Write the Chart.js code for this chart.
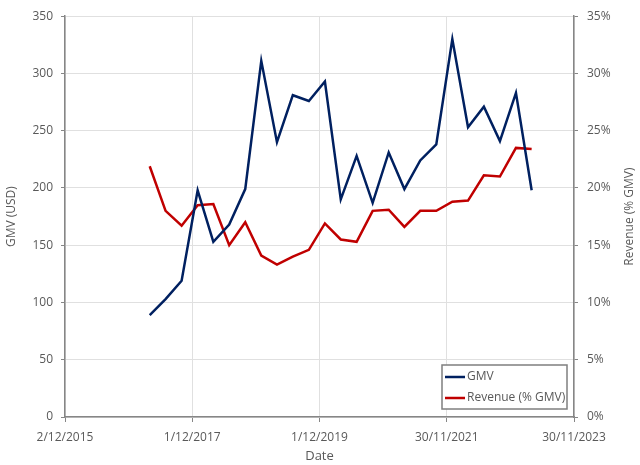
<!DOCTYPE html>
<html lang="en">
<head>
    <meta charset="UTF-8">
    <title>GMV and Revenue</title>
    <script src="https://cdn.jsdelivr.net/npm/chart.js"></script>
    <style>
        body { margin: 0; background: #fff; }
    </style>
</head>
<body>
    <canvas id="myChart" width="640" height="465"></canvas>

    <script>
        // quarterly data points
        const dates = [
            "2017-04-01", "2017-07-01", "2017-10-01", "2018-01-01",
            "2018-04-01", "2018-07-01", "2018-10-01", "2019-01-01",
            "2019-04-01", "2019-07-01", "2019-10-01", "2020-01-01",
            "2020-04-01", "2020-07-01", "2020-10-01", "2021-01-01",
            "2021-04-01", "2021-07-01", "2021-10-01", "2022-01-01",
            "2022-04-01", "2022-07-01", "2022-10-01", "2023-01-01",
            "2023-04-01"
        ];
        const gmv = [
            89, 103, 119, 198, 153, 168, 199, 311, 240, 281, 276, 293,
            190, 228, 187, 231, 199, 224, 238, 330, 253, 271, 241, 283, 198
        ];
        const revenuePct = [
            21.9, 18.0, 16.7, 18.5, 18.6, 15.0, 17.0, 14.1, 13.3, 14.0, 14.6, 16.9,
            15.5, 15.3, 18.0, 18.1, 16.6, 18.0, 18.0, 18.8, 18.9, 21.1, 21.0, 23.5, 23.4
        ];
        const xTicks = ["2015-12-02", "2017-12-01", "2019-12-01", "2021-11-30", "2023-11-30"];
        const gmvTicks = [0, 50, 100, 150, 200, 250, 300, 350];
        const pctTicks = [0, 5, 10, 15, 20, 25, 30, 35];

        const DAY = 86400000;
        const toDay = (s) => {
            const [y, m, d] = s.split("-").map(Number);
            return Date.UTC(y, m - 1, d) / DAY;
        };
        const fmtDay = (v) => {
            const d = new Date(Math.round(v) * DAY);
            return d.getUTCDate() + "/" + (d.getUTCMonth() + 1) + "/" + d.getUTCFullYear();
        };

        const FONT = { family: "'Open Sans', sans-serif", size: 12 };
        const TEXT = "#595959";
        const AXIS = "#868686";
        const GRID = "#e0e0e0";

        // legend box inside the plot, bottom right
        const boxLegend = {
            id: "boxLegend",
            afterDatasetsDraw(chart) {
                const ctx = chart.ctx;
                const x = 442, y = 365, w = 125, h = 44;
                ctx.save();
                ctx.fillStyle = "#fff";
                ctx.fillRect(x, y, w, h);
                ctx.strokeStyle = "#7f7f7f";
                ctx.lineWidth = 1.5;
                ctx.strokeRect(x, y, w, h);
                ctx.font = "12px 'Open Sans', sans-serif";
                ctx.textBaseline = "middle";
                chart.data.datasets.forEach((ds, i) => {
                    const ly = y + 12 + i * 21;
                    ctx.strokeStyle = ds.borderColor;
                    ctx.lineWidth = 2.5;
                    ctx.beginPath();
                    ctx.moveTo(x + 3, ly);
                    ctx.lineTo(x + 23, ly);
                    ctx.stroke();
                    ctx.fillStyle = TEXT;
                    ctx.fillText(ds.label, x + 25, ly);
                });
                ctx.restore();
            }
        };

        // right axis title reads bottom-to-top like the left one
        const rightTitle = {
            id: "rightTitle",
            afterDraw(chart) {
                const ctx = chart.ctx;
                const a = chart.chartArea;
                ctx.save();
                ctx.translate(630, (a.top + a.bottom) / 2);
                ctx.rotate(-Math.PI / 2);
                ctx.font = "12px 'Open Sans', sans-serif";
                ctx.fillStyle = TEXT;
                ctx.textAlign = "center";
                ctx.textBaseline = "middle";
                ctx.fillText("Revenue (% GMV)", 0, 0);
                ctx.restore();
            }
        };

        const ctx = document.getElementById("myChart").getContext("2d");
        new Chart(ctx, {
            type: "line",
            data: {
                datasets: [
                    {
                        label: "GMV",
                        data: dates.map((d, i) => ({ x: toDay(d), y: gmv[i] })),
                        borderColor: "#002060",
                        borderWidth: 2.5,
                        pointRadius: 0,
                        tension: 0,
                        yAxisID: "y"
                    },
                    {
                        label: "Revenue (% GMV)",
                        data: dates.map((d, i) => ({ x: toDay(d), y: revenuePct[i] })),
                        borderColor: "#c00000",
                        borderWidth: 2.5,
                        pointRadius: 0,
                        tension: 0,
                        yAxisID: "y1"
                    }
                ]
            },
            options: {
                responsive: false,
                animation: false,
                devicePixelRatio: 1,
                layout: { padding: { top: 11, left: 0, right: 0, bottom: 0 } },
                plugins: {
                    legend: { display: false },
                    tooltip: { enabled: false }
                },
                scales: {
                    x: {
                        type: "linear",
                        min: toDay(xTicks[0]),
                        max: toDay(xTicks[xTicks.length - 1]),
                        afterBuildTicks: (axis) => {
                            axis.ticks = xTicks.map(t => ({ value: toDay(t) }));
                        },
                        afterFit: (axis) => { axis.height = 48; },
                        grid: { color: GRID, tickColor: AXIS, tickLength: 5 },
                        border: { color: AXIS, width: 1.5 },
                        ticks: {
                            font: FONT, color: TEXT, padding: 8, maxRotation: 0,
                            callback: (v) => fmtDay(v)
                        },
                        title: {
                            display: true, text: "Date", font: { ...FONT, size: 13 }, color: TEXT,
                            padding: { top: 0, bottom: 1 }
                        }
                    },
                    y: {
                        position: "left",
                        min: 0,
                        max: 350,
                        afterBuildTicks: (axis) => {
                            axis.ticks = gmvTicks.map(v => ({ value: v }));
                        },
                        afterFit: (axis) => { axis.width = 65; },
                        grid: { color: GRID, tickColor: AXIS, tickLength: 4 },
                        border: { color: AXIS, width: 1.5 },
                        ticks: { font: FONT, color: TEXT, padding: 8 },
                        title: {
                            display: true, text: "GMV (USD)", font: FONT, color: TEXT,
                            padding: { top: 4, bottom: 0 }
                        }
                    },
                    y1: {
                        position: "right",
                        min: 0,
                        max: 35,
                        afterBuildTicks: (axis) => {
                            axis.ticks = pctTicks.map(v => ({ value: v }));
                        },
                        afterFit: (axis) => { axis.width = 66; },
                        grid: { drawOnChartArea: false, tickColor: AXIS, tickLength: 4 },
                        border: { color: AXIS, width: 1.5 },
                        ticks: { font: FONT, color: TEXT, padding: 9, callback: (v) => v + "%" }
                    }
                }
            },
            plugins: [boxLegend, rightTitle]
        });
    </script>
</body>
</html>
